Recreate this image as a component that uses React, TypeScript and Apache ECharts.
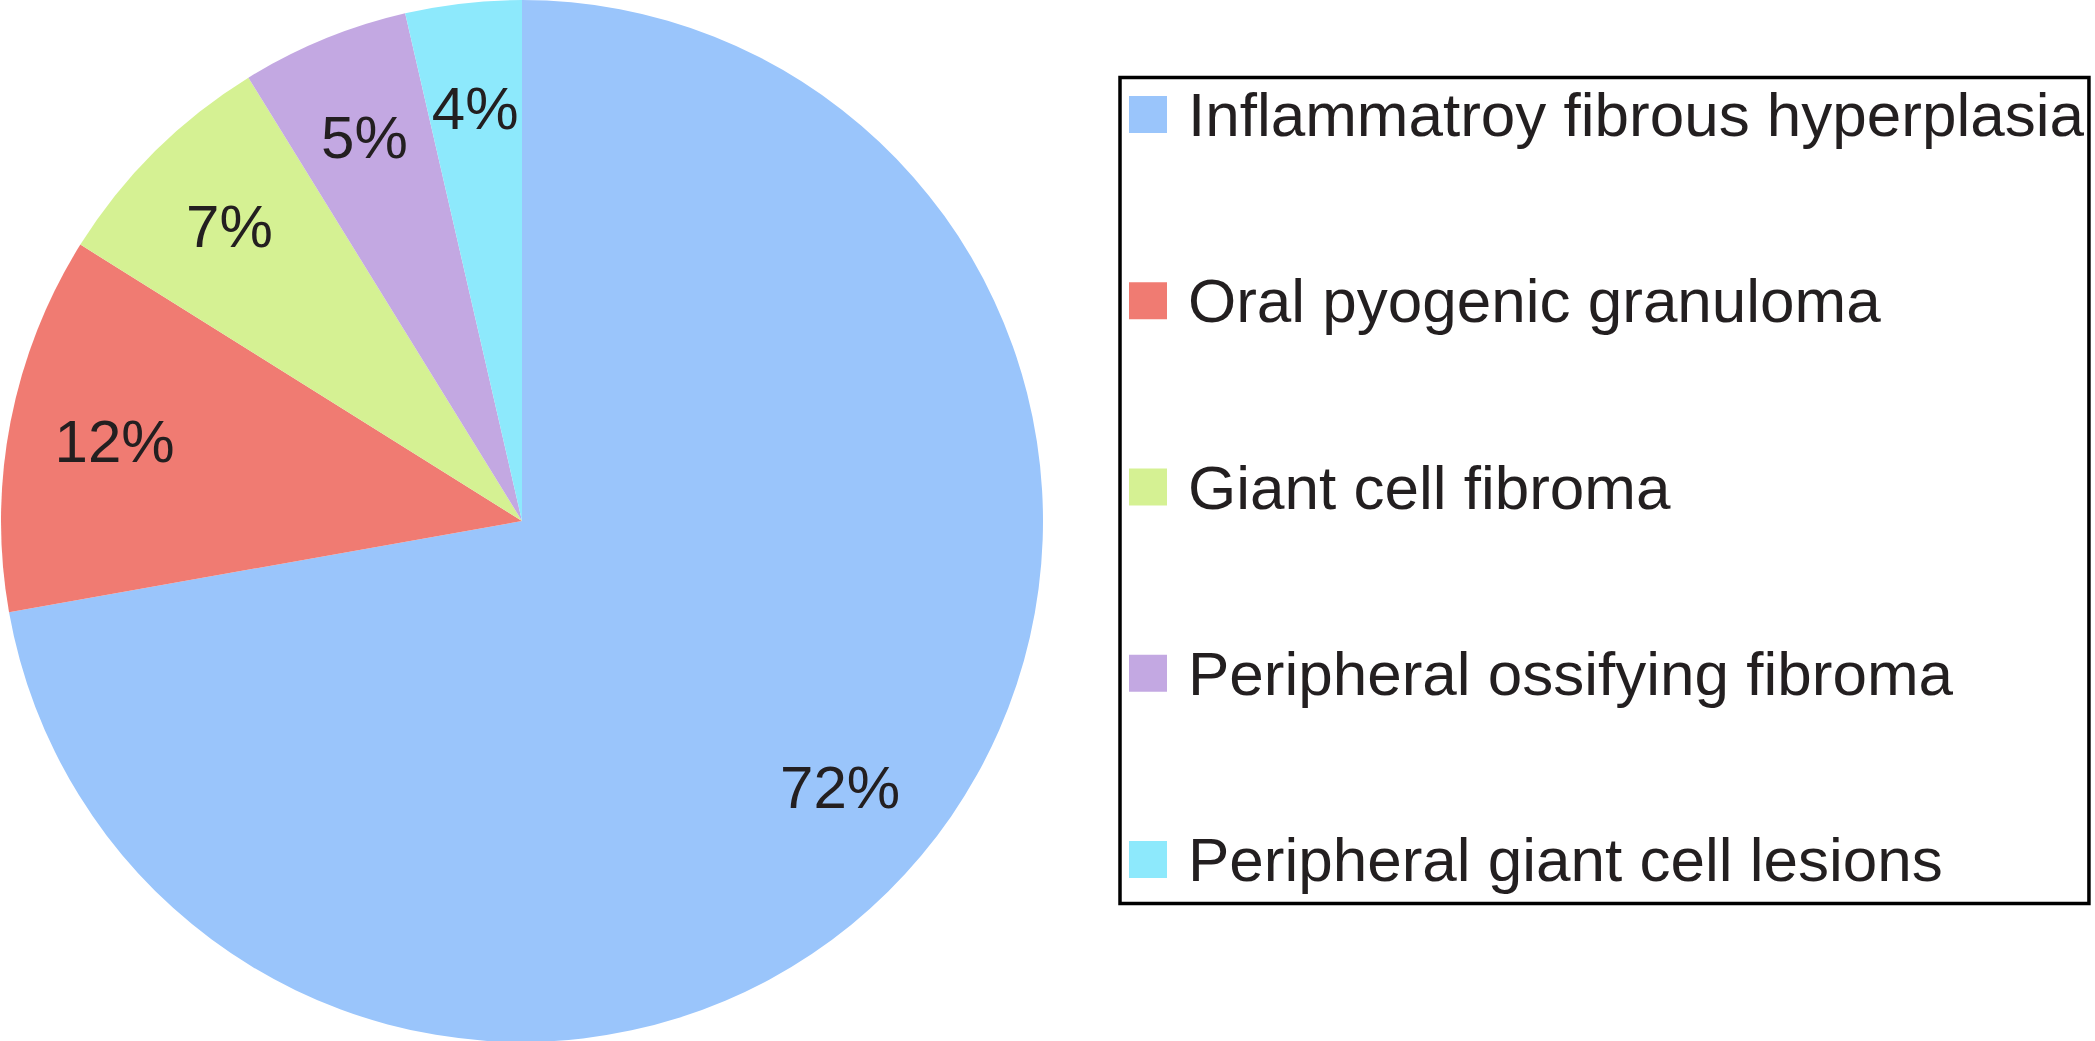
import React, { useEffect, useRef } from "react";
import * as echarts from "echarts";

const categories = [
  "Inflammatroy fibrous hyperplasia",
  "Oral pyogenic granuloma",
  "Giant cell fibroma",
  "Peripheral ossifying fibroma",
  "Peripheral giant cell lesions",
];
const values = [72.2, 11.7, 7.3, 5.2, 3.6];
const colors = ["#9AC5FB", "#F07B72", "#D5F193", "#C3A8E2", "#8DE9FC"];

const FONT = "'Liberation Sans', Arial, Helvetica, sans-serif";
const TEXT_COLOR = "#231F20";

export default function App() {
  const ref = useRef<HTMLDivElement>(null);

  useEffect(() => {
    if (!ref.current) return;
    const chart = echarts.init(ref.current, undefined, { renderer: "svg" });
    const pieData = categories.map((name, i) => ({
      name,
      value: values[i],
      itemStyle: { color: colors[i] },
    }));
    const labelData = categories.map((name, i) => ({
      name,
      value: values[i],
    }));
    chart.setOption({
      animation: false,
      backgroundColor: "#ffffff",
      legend: {
        orient: "vertical",
        left: 1120,
        top: 77.5,
        padding: [2, 5, 9, 9],
        borderColor: "#000000",
        borderWidth: 3.5,
        itemWidth: 38,
        itemHeight: 37,
        itemGap: 116.25,
        icon: "rect",
        selectedMode: false,
        data: categories.map((name, i) => ({
          name,
          icon: "rect",
          itemStyle: { color: colors[i] },
        })),
        textStyle: {
          fontFamily: FONT,
          fontSize: 62,
          color: TEXT_COLOR,
          lineHeight: 70,
          padding: [0, 0, 0, 16],
        },
      },
      series: [
        {
          type: "pie",
          center: [522, 521],
          radius: [0, 521],
          startAngle: 90,
          clockwise: true,
          silent: true,
          label: { show: false },
          labelLine: { show: false },
          emphasis: { disabled: true },
          itemStyle: { borderWidth: 0 },
          data: pieData,
        },
        {
          type: "pie",
          center: [522, 521],
          radius: [0, 824],
          startAngle: 90,
          clockwise: true,
          silent: true,
          legendHoverLink: false,
          percentPrecision: 0,
          itemStyle: { color: "rgba(0,0,0,0)", borderWidth: 0 },
          emphasis: { disabled: true },
          labelLine: { show: false },
          label: {
            show: true,
            position: "inside",
            formatter: "{d}%",
            fontFamily: FONT,
            fontSize: 60,
            color: TEXT_COLOR,
            textBorderWidth: 0,
          },
          data: labelData,
        },
      ],
    });
    return () => chart.dispose();
  }, []);

  return (
    <div
      ref={ref}
      style={{ position: "absolute", left: 0, top: 0, width: 2095, height: 1041 }}
    />
  );
}
